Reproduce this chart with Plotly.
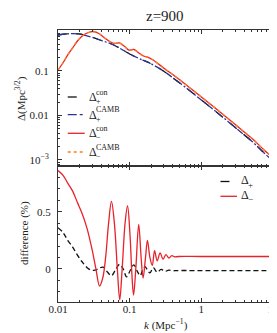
import plotly.graph_objects as go

# ---------------- data ----------------
k_plus = [0.01, 0.0128, 0.016, 0.02, 0.024, 0.032, 0.042, 0.056, 0.076, 0.1, 0.15, 0.19,
          0.31, 0.42, 0.58, 1.0, 1.5, 2.4, 3.4, 5.2, 7.5, 10.0]
delta_plus = [0.644, 0.678, 0.689, 0.678, 0.628, 0.552, 0.472, 0.404, 0.312, 0.241, 0.177, 0.151,
              0.095, 0.066, 0.0449, 0.0223, 0.0133, 0.00715, 0.00449, 0.00254, 0.00144, 0.00095]

k_minus = [0.01, 0.0117, 0.01367, 0.016, 0.01868, 0.02183, 0.02553, 0.0308, 0.0372, 0.0448,
           0.054, 0.0612, 0.0716, 0.0837, 0.0978, 0.1144, 0.1337, 0.156, 0.177, 0.207,
           0.311, 0.425, 0.581, 1.0, 1.5, 2.4, 3.4, 5.2, 7.5, 10.0]
delta_minus = [0.1053, 0.151, 0.229, 0.329, 0.472, 0.612, 0.714, 0.772, 0.696, 0.552,
               0.449, 0.415, 0.426, 0.364, 0.296, 0.304, 0.254, 0.217, 0.206, 0.181,
               0.111, 0.0772, 0.0524, 0.026, 0.0155, 0.00834, 0.00524, 0.00296, 0.00168, 0.00111]

k_diff_minus = [0.01, 0.0117, 0.01367, 0.016, 0.01868, 0.02183, 0.02553, 0.02986, 0.0338, 0.038,
                0.0421, 0.0462, 0.0508, 0.0557, 0.0612, 0.0673, 0.0727, 0.0786, 0.0863, 0.0934,
                0.101, 0.1075, 0.1133, 0.1218, 0.1337, 0.1445, 0.1539, 0.1664, 0.177, 0.1915,
                0.207, 0.2225, 0.242, 0.266, 0.292, 0.3206, 0.352, 0.387, 0.425, 0.48, 1.0, 10.0]
diff_minus = [0.86, 0.82, 0.75, 0.68, 0.58, 0.48, 0.35, 0.17, 0.0, -0.15,
              -0.08, 0.1, 0.4, 0.59, 0.4, 0.0, -0.27, 0.0, 0.4, 0.55,
              0.3, -0.05, -0.23, 0.0, 0.39, 0.1, -0.08, 0.1, 0.25, 0.1,
              0.03, 0.16, 0.07, 0.14, 0.085, 0.125, 0.095, 0.115, 0.105, 0.108, 0.108, 0.108]

k_diff_plus = [0.01, 0.0117, 0.01367, 0.016, 0.01868, 0.02183, 0.02553, 0.0289, 0.0328, 0.0372,
               0.0428, 0.0492, 0.0557, 0.0632, 0.0723, 0.0811, 0.0905, 0.1025, 0.1144, 0.1276,
               0.140, 0.1516, 0.1638, 0.177, 0.1915, 0.2137, 0.242, 0.2743, 0.311, 0.352,
               0.399, 0.452, 1.0, 10.0]
diff_plus = [0.36, 0.32, 0.25, 0.19, 0.12, 0.06, 0.01, -0.01, -0.012, 0.005,
             0.015, -0.03, -0.06, -0.01, 0.04, 0.0, -0.07, -0.01, 0.035, -0.02,
             -0.06, -0.01, 0.02, -0.01, -0.035, 0.01, -0.03, -0.005, -0.022, -0.011,
             -0.017, -0.015, -0.015, -0.015]

x_tick_vals = [0.01, 0.1, 1, 10]
x_tick_text = ["0.01", "0.1", "1", "10"]
y1_tick_vals = [0.001, 0.01, 0.1]
y1_tick_text = ["10<sup>−3</sup>", "0.01", "0.1"]
y2_tick_vals = [0, 0.5]
y2_tick_text = ["0", "0.5"]

# ---------------- figure ----------------
W, H = 277, 333
L, R, T, B = 50, 6, 22, 39
FONT = "Liberation Serif"
AX = "#333333"

def px(xp):
    return (xp - L) / (W - L - R)

def py(yp):
    return (H - B - yp) / (H - T - B)

BLACK = "#111111"
BLUE = "#2a3593"
RED = "#e8222a"
ORANGE = "#ff7b1c"
BLUE_DASH = "7px,2px,2px,2px"

fig = go.Figure()
# top panel
fig.add_trace(go.Scatter(x=k_plus, y=delta_plus, mode="lines", line=dict(color=BLACK, width=1.3, dash="dash", shape="spline"), xaxis="x", yaxis="y"))
fig.add_trace(go.Scatter(x=k_plus, y=delta_plus, mode="lines", line=dict(color=BLUE, width=1.3, dash=BLUE_DASH, shape="spline"), xaxis="x", yaxis="y"))
fig.add_trace(go.Scatter(x=k_minus, y=delta_minus, mode="lines", line=dict(color=RED, width=1.3, shape="spline"), xaxis="x", yaxis="y"))
fig.add_trace(go.Scatter(x=k_minus, y=delta_minus, mode="lines", line=dict(color=ORANGE, width=1.3, dash="dot", shape="spline"), xaxis="x", yaxis="y"))
# bottom panel
fig.add_trace(go.Scatter(x=k_diff_plus, y=diff_plus, mode="lines", line=dict(color=BLACK, width=1.3, dash="5px,3px", shape="spline"), xaxis="x2", yaxis="y2"))
fig.add_trace(go.Scatter(x=k_diff_minus, y=diff_minus, mode="lines", line=dict(color=RED, width=1.3, shape="spline"), xaxis="x2", yaxis="y2"))

minor_log = [m * 10 ** e for e in (-2, -1, 0) for m in range(2, 10)]
minor_log_y = [m * 10 ** e for e in (-4, -3, -2, -1) for m in range(2, 10)]

common = dict(showline=True, linecolor=AX, linewidth=1, mirror="allticks", ticks="inside",
              ticklen=4, tickcolor=AX, tickwidth=0.8, showgrid=False, zeroline=False,
              tickfont=dict(family=FONT, size=11, color="#222"))

fig.update_layout(
    width=W, height=H, margin=dict(l=L, r=R, t=T, b=B),
    plot_bgcolor="white", paper_bgcolor="white", showlegend=False,
    xaxis=dict(type="log", range=[-2, 1], domain=[0, 1], anchor="y", showticklabels=False,
               tickmode="array", tickvals=x_tick_vals,
               minor=dict(tickmode="array", tickvals=minor_log, ticks="inside", ticklen=2, tickcolor=AX, showgrid=False),
               **common),
    yaxis=dict(type="log", range=[-3.135, -0.079], domain=[0.5, 1], anchor="x",
               tickmode="array", tickvals=y1_tick_vals, ticktext=y1_tick_text, ticklabelstandoff=6,
               minor=dict(tickmode="array", tickvals=minor_log_y, ticks="inside", ticklen=2, tickcolor=AX, showgrid=False),
               **common),
    xaxis2=dict(type="log", range=[-2, 1], domain=[0, 1], anchor="y2",
                tickmode="array", tickvals=x_tick_vals, ticktext=x_tick_text, ticklabelstandoff=-3,
                minor=dict(tickmode="array", tickvals=minor_log, ticks="inside", ticklen=2, tickcolor=AX, showgrid=False),
                **common),
    yaxis2=dict(range=[-0.29, 0.9], domain=[0, 0.5], anchor="x2",
                tickmode="array", tickvals=y2_tick_vals, ticktext=y2_tick_text, ticklabelstandoff=4,
                minor=dict(dtick=0.1, tick0=0, ticks="inside", ticklen=2, tickcolor=AX, showgrid=False),
                **common),
)

ann = []
def text(xp, yp, s, size=11, xanchor="left", angle=0):
    ann.append(dict(x=px(xp), y=py(yp), xref="paper", yref="paper", text=s, showarrow=False,
                    xanchor=xanchor, yanchor="middle", textangle=angle, borderpad=0,
                    font=dict(family=FONT, size=size, color="#222")))

text(160, 8, "z=900", size=15, xanchor="center")
text(11, 91, "Δ(Mpc<sup>3/2</sup>)", size=11, xanchor="center", angle=-90)
text(15, 225, "difference (%)", size=11, xanchor="center", angle=-90)
text(161, 316, "<i>k</i> (Mpc<sup>−1</sup>)", size=11, xanchor="center")

shapes = []
def sample(x0, x1, yp, color, dash):
    shapes.append(dict(type="line", xref="paper", yref="paper", x0=px(x0), x1=px(x1), y0=py(yp), y1=py(yp),
                       line=dict(color=color, width=1.3, dash=dash)))

# top legend
rows = [(89, BLACK, "dash", "con", "+"), (106.7, BLUE, "dashdot", "CAMB", "+"),
        (125.3, RED, "solid", "con", "−"), (144, ORANGE, "dot", "CAMB", "−")]
for yp, c, d, sup, sub in rows:
    sample(60, 77.5, yp, c, d)
    text(81, yp, "Δ", size=12)
    text(88, yp - 5, sup, size=8)
    text(88, yp + 4.5, sub, size=8)
# bottom legend
for yp, c, d, sub in [(173.5, BLACK, "dash", "+"), (188.3, RED, "solid", "−")]:
    sample(217, 234, yp, c, d)
    text(237, yp - 1, "Δ", size=12)
    text(244, yp + 3, sub, size=9)

fig.update_layout(annotations=ann, shapes=shapes)
fig.write_html("out.html")
